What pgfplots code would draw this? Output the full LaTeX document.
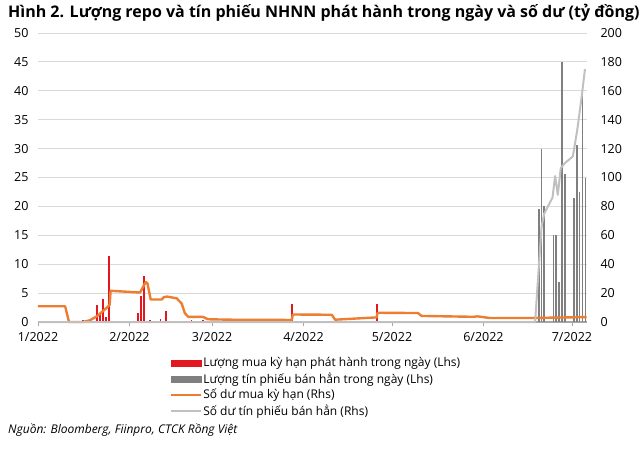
\documentclass[border=0pt]{standalone}
\usepackage{pgfplots}
\pgfplotsset{compat=1.18}
\usepackage{fontspec}
\setmainfont{Open Sans}
\definecolor{barred}{HTML}{E3171F}
\definecolor{bargray}{HTML}{7F7F7F}
\definecolor{lineorange}{HTML}{ED7D31}
\definecolor{linegray}{HTML}{C0C0C0}
\definecolor{gridgray}{HTML}{D9D9D9}

\begin{document}
\begin{tikzpicture}[font=\fontsize{12.5}{14}\selectfont]
\useasboundingbox (-38pt,-126pt) rectangle (602pt,322pt);

% Left axis: daily issuance (Lhs)
\begin{axis}[
    at={(0pt,0pt)}, anchor=origin,
    scale only axis, width=549pt, height=289pt,
    xmin=0, xmax=186.1, ymin=0, ymax=50,
    axis x line*=bottom, axis y line*=left,
    x axis line style={draw=black!35, line width=1.4pt},
    y axis line style={draw=none},
    xtick={0,31,59,90,120,151,181},
    xticklabels={1/2022,2/2022,3/2022,4/2022,5/2022,6/2022,7/2022},
    xtick style={draw=black!35, line width=0.6pt},
    tick align=outside, major tick length=4pt,
    ytick={0,5,...,50}, ytick style={draw=none},
    ymajorgrids, grid style={draw=gridgray, line width=0.9pt},
    /pgf/number format/assume math mode=true,
    xticklabel style={yshift=-3pt},
    yticklabel style={anchor=east, xshift=-2pt},
    clip=false,
]
\addplot[ycomb, draw=barred, line width=1.7pt] coordinates {
    (15.3,0.3) (20,2.9) (21,1.6) (22,3.9) (23,0.9) (24,11.5)
    (34,1.5) (35,4.5) (36,8.0) (38,0.3) (41.5,0.5) (43.3,1.9)
    (49,0.2) (52,0.3) (56,0.3) (63,0.2) (86,3.2) (115,3.1)
};
\addplot[ycomb, draw=bargray, line width=1.7pt] coordinates {
    (169.8,19.5) (170.7,30) (171.6,20)
    (174.7,15) (175.6,15) (176.7,7) (177.6,45) (178.6,25.6)
    (181.7,21.5) (182.7,30.7) (183.6,22.5) (184.6,40) (185.6,25)
};
\end{axis}

% Right axis: balances (Rhs)
\begin{axis}[
    at={(0pt,0pt)}, anchor=origin,
    scale only axis, width=549pt, height=289pt,
    xmin=0, xmax=186.1, ymin=0, ymax=200,
    axis x line=none, axis y line*=right,
    y axis line style={draw=none},
    ytick={0,20,...,200}, ytick style={draw=none},
    /pgf/number format/assume math mode=true,
    yticklabel style={anchor=west, xshift=10pt},
    clip=false,
    legend cell align=left,
    legend style={at={(0.2404,-0.117)}, anchor=north west, draw=none, fill=none,
        inner sep=0pt, row sep=1.5pt, nodes={inner sep=1.5pt},
        font=\fontsize{12}{14}\selectfont},
]
\addlegendimage{legend image code/.code={\fill[barred] (0pt,-3pt) rectangle (30pt,3pt);}}
\addlegendentry{Lượng mua kỳ hạn phát hành trong ngày (Lhs)}
\addlegendimage{legend image code/.code={\fill[bargray] (0pt,-3pt) rectangle (30pt,3pt);}}
\addlegendentry{Lượng tín phiếu bán hẳn trong ngày (Lhs)}
\addplot[lineorange, line width=2.4pt, line join=round,
    legend image code/.code={\draw[lineorange, line width=1.6pt] (0pt,0pt) -- (30pt,0pt);}]
coordinates {
    (0,10.9) (9.2,10.9) (10.5,0) (15.3,0) (17.6,1.2) (20,4) (23.4,10)
    (24.3,12) (24.6,21.6) (34.6,20.4) (36.5,27.6) (37.1,26.8) (38.2,15.6)
    (41.9,15.6) (42.7,17.2) (43.7,17.6) (47,16.4) (48.7,12.8) (49.8,6)
    (51,3.5) (56,3.5) (57.6,1.9) (65,1.6) (86,1.4) (86.4,5.2) (99.6,5.0)
    (100.7,1.6) (114.8,3.2) (115.1,6.4) (128.8,6.2) (130,4.2) (147.5,3.6)
    (149,3.9) (153,2.8) (167.8,2.8) (186,3.4)
};
\addlegendentry{Số dư mua kỳ hạn (Rhs)}
\addplot[linegray, line width=2pt, line join=round,
    legend image code/.code={\draw[linegray, line width=1.6pt] (0pt,0pt) -- (30pt,0pt);}]
coordinates {
    (0,0) (168.5,0) (170.7,66) (171.6,75) (173.6,83) (174.4,86) (175.3,101)
    (176.2,88) (177.2,106.5) (178.6,110) (181.3,114.6) (182.8,133)
    (184.3,156) (185.4,175)
};
\addlegendentry{Số dư tín phiếu bán hẳn (Rhs)}
\end{axis}

\node[anchor=base west, inner sep=0pt, font=\fontsize{16}{18}\selectfont\bfseries]
    at (-30pt,305pt) {Hình 2. Lượng repo và tín phiếu NHNN phát hành trong ngày và số dư (tỷ đồng)};
\node[anchor=base west, inner sep=0pt, font=\fontsize{12}{14}\selectfont\itshape]
    at (-30pt,-111pt) {Nguồn: Bloomberg, Fiinpro, CTCK Rồng Việt};
\end{tikzpicture}
\end{document}
